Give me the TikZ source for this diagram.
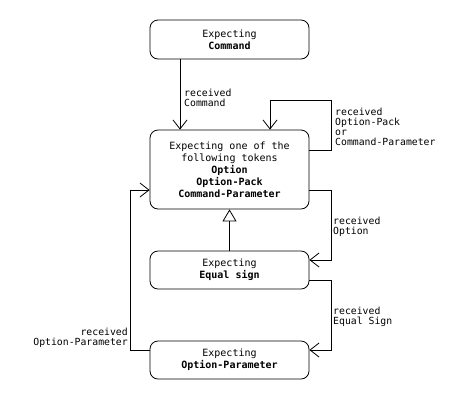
\documentclass[tikz,border=0pt]{standalone}
\usepackage{fontspec}
\setmainfont{DejaVu Sans Mono}
\usetikzlibrary{arrows.meta}

\def\stateWidth{159}
\def\stateCenterX{229.5}
\def\laneRight{331}
\def\laneLeft{130}
\def\loopTop{100}

\tikzset{
    state/.style = {draw, line width = 0.8pt, rounded corners = 8pt,
        minimum width = \stateWidth pt, inner sep = 0pt, align = center,
        font = \fontsize{10}{12}\selectfont},
    flow/.style = {draw, line width = 0.8pt,
        -{Straight Barb[length = 9pt, width = 14pt]}},
    derive/.style = {draw, line width = 0.8pt,
        -{Triangle[open, length = 12pt, width = 14pt]}},
    transition/.style = {inner sep = 0pt, align = left,
        font = \fontsize{9.8}{10}\selectfont},
}

\begin{document}
\begin{tikzpicture}[x = 1pt, y = -1pt]
    \useasboundingbox (0,0) rectangle (470,400);
    %% states
    \node [state, minimum height = 39pt] (command)
        at (\stateCenterX,39.5) {Expecting\\\textbf{Command}};
    \node [state, minimum height = 79pt] (tokens)
        at (\stateCenterX,169.5)
        {Expecting one of the\\following tokens\\\textbf{Option}\\
         \textbf{Option-Pack}\\\textbf{Command-Parameter}};
    \node [state, minimum height = 38pt] (equal)
        at (\stateCenterX,270) {Expecting\\\textbf{Equal sign}};
    \node [state, minimum height = 38pt] (optparam)
        at (\stateCenterX,360) {Expecting\\\textbf{Option-Parameter}};
    %% transitions
    \draw [flow]
        ([xshift = -49.5pt]command.south) -- ([xshift = -49.5pt]tokens.north)
        ;
    \draw [flow]
        ([yshift = 19.5pt]tokens.east) -| (\laneRight,\loopTop)
        -| ([xshift = 40.5pt]tokens.north)
        ;
    \draw [flow]
        ([yshift = -20.5pt]tokens.east) -| (\laneRight,260)
        -- ([yshift = 10pt]equal.east)
        ;
    \draw [flow]
        ([yshift = -10pt]equal.east) -| (\laneRight,350)
        -- ([yshift = 10pt]optparam.east)
        ;
    \draw [flow]
        ([yshift = 10pt]optparam.west) -| (\laneLeft,190)
        -- ([yshift = -20.5pt]tokens.west)
        ;
    \draw [derive] (equal.north) -- (tokens.south);
    %% labels
    \node [transition, anchor = north west] (lblcommand)
        at (184,89) {received\\Command};
    \node [transition, anchor = north west] (lblloop)
        at (335,108) {received\\Option-Pack\\or\\Command-Parameter};
    \node [transition, anchor = north west] (lbloption)
        at (333,217) {received\\Option};
    \node [transition, anchor = north west] (lblequal)
        at (333,307) {received\\Equal Sign};
    \node [transition, anchor = north east, align = right] (lblparam)
        at (128,328) {received\\Option-Parameter};
\end{tikzpicture}
\end{document}
